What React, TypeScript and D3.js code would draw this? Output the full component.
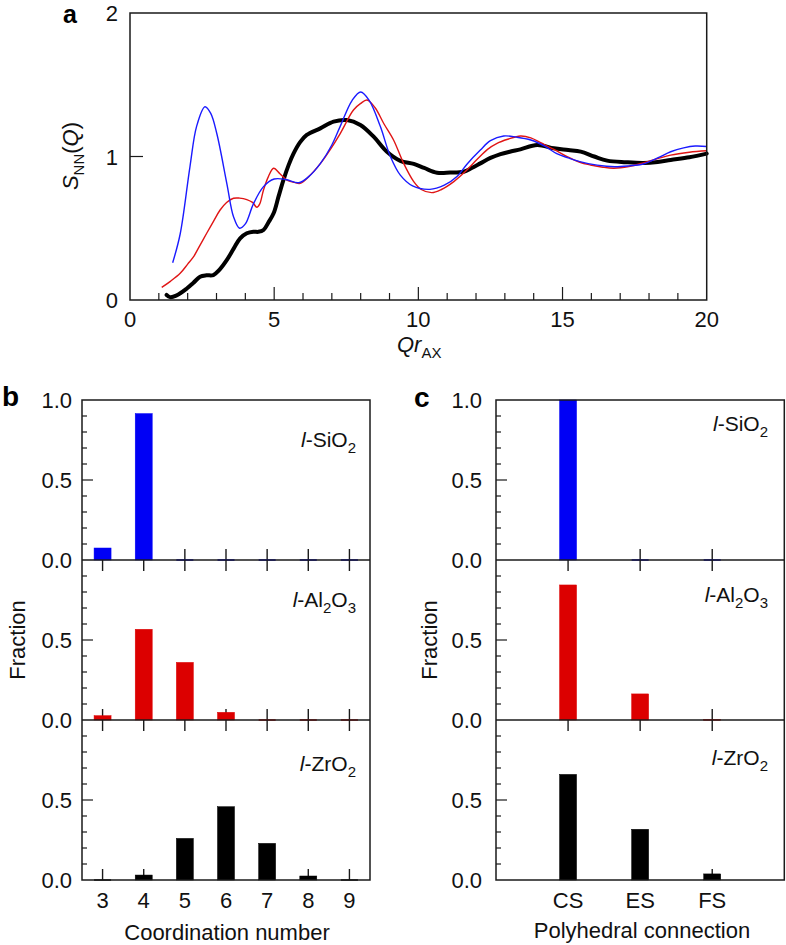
import React from 'react';
import * as d3 from 'd3';

const FONT = '"Liberation Sans", Arial, Helvetica, sans-serif';

// ---------- Panel a: S_NN(Q) vs Q r_AX ----------
const sio2Sq: [number, number][] = [
  [1.48, 0.26], [1.74, 0.46], [2.08, 0.93], [2.31, 1.21], [2.6, 1.347], [2.8, 1.3], [3.01, 1.16],
  [3.36, 0.81], [3.59, 0.58], [3.8, 0.5], [4.0, 0.53], [4.28, 0.67], [4.63, 0.79], [5.0, 0.843],
  [5.4, 0.84], [5.85, 0.817], [6.2, 0.86], [6.6, 0.95], [7.0, 1.08], [7.29, 1.21], [7.7, 1.39],
  [8.0, 1.45], [8.3, 1.39], [8.68, 1.21], [9.03, 1.0], [9.375, 0.87], [9.8, 0.795], [10.4, 0.771],
  [10.9, 0.8], [11.34, 0.86], [11.7, 0.95], [12.15, 1.045], [12.5, 1.11], [12.96, 1.143],
  [13.4, 1.135], [13.9, 1.115], [14.4, 1.07], [14.8, 1.02], [15.2, 0.99], [15.6, 0.964],
  [16.2, 0.94], [16.8, 0.929], [17.3, 0.935], [17.8, 0.948], [18.3, 0.99], [18.75, 1.033],
  [19.2, 1.06], [19.6, 1.073], [20, 1.07],
];
const al2o3Sq: [number, number][] = [
  [1.1, 0.088], [1.4, 0.13], [1.74, 0.186], [2.0, 0.25], [2.2, 0.3], [2.45, 0.39], [2.66, 0.465],
  [2.9, 0.55], [3.125, 0.627], [3.35, 0.68], [3.59, 0.709], [3.8, 0.71], [4.05, 0.7], [4.25, 0.68],
  [4.4, 0.646], [4.5, 0.67], [4.63, 0.767], [4.8, 0.86], [4.98, 0.918], [5.2, 0.88], [5.44, 0.836],
  [5.7, 0.82], [5.9, 0.813], [6.2, 0.86], [6.6, 0.95], [6.95, 1.05], [7.29, 1.16], [7.75, 1.324],
  [8.0, 1.37], [8.22, 1.394], [8.5, 1.34], [8.8, 1.23], [9.14, 1.115], [9.49, 0.952], [9.84, 0.825],
  [10.1, 0.77], [10.47, 0.748], [10.8, 0.77], [11.23, 0.825], [11.6, 0.89], [12.04, 0.98],
  [12.4, 1.05], [12.73, 1.092], [13.1, 1.12], [13.54, 1.143], [13.9, 1.13], [14.24, 1.096],
  [14.7, 1.05], [15.16, 0.999], [15.6, 0.96], [15.97, 0.941], [16.4, 0.925], [16.78, 0.918],
  [17.3, 0.93], [17.8, 0.955], [18.3, 0.985], [18.75, 1.01], [19.4, 1.03], [20, 1.04],
];
const zro2Sq: [number, number][] = [
  [1.27, 0.035], [1.39, 0.02], [1.6, 0.03], [1.97, 0.08], [2.2, 0.12], [2.43, 0.162], [2.65, 0.172],
  [2.89, 0.174], [3.1, 0.21], [3.36, 0.279], [3.6, 0.36], [3.82, 0.43], [4.05, 0.465], [4.28, 0.476],
  [4.45, 0.475], [4.63, 0.488], [4.8, 0.54], [4.98, 0.604], [5.15, 0.72], [5.32, 0.836], [5.5, 0.94],
  [5.67, 1.02], [5.9, 1.1], [6.13, 1.15], [6.6, 1.196], [7.06, 1.243], [7.52, 1.254], [7.99, 1.22],
  [8.45, 1.138], [8.91, 1.033], [9.375, 0.97], [9.84, 0.948], [10.2, 0.92], [10.65, 0.887],
  [11.1, 0.888], [11.57, 0.894], [11.85, 0.92], [12.15, 0.952], [12.5, 0.99], [12.85, 1.017],
  [13.2, 1.035], [13.54, 1.05], [14.12, 1.08], [14.7, 1.057], [15.2, 1.045], [15.63, 1.034],
  [16.1, 1.0], [16.55, 0.971], [17.2, 0.96], [17.8, 0.955], [18.3, 0.962], [18.75, 0.976],
  [19.4, 0.995], [20, 1.02],
];
const qTickLabels = [0, 5, 10, 15, 20];
const sTickLabels = [0, 1, 2];

// ---------- Panel b: coordination number ----------
const coordCats = ['3', '4', '5', '6', '7', '8', '9'];
const sio2Coord = [0.075, 0.915, 0, 0, 0, 0, 0];
const al2o3Coord = [0.027, 0.567, 0.36, 0.048, 0, 0, 0];
const zro2Coord = [0, 0.031, 0.26, 0.458, 0.229, 0.025, 0];

// ---------- Panel c: polyhedral connection ----------
const polyCats = ['CS', 'ES', 'FS'];
const sio2Poly = [1.0, 0, 0];
const al2o3Poly = [0.844, 0.163, 0.004];
const zro2Poly = [0.66, 0.317, 0.038];

const BLUE = '#0000f5';
const RED = '#dc0000';
const BLACK = '#000000';
const AXIS = '#1a1a1a';

const SUB_H = 160;
const BAR_TOP = 400;
const TICK_FS = 22;

function SiO2Label(props: any) {
  return (
    <text {...props}>
      <tspan fontStyle="italic">l</tspan>
      <tspan>-SiO</tspan>
      <tspan dy={6} fontSize={15}>2</tspan>
    </text>
  );
}
function Al2O3Label(props: any) {
  return (
    <text {...props}>
      <tspan fontStyle="italic">l</tspan>
      <tspan>-Al</tspan>
      <tspan dy={6} fontSize={15}>2</tspan>
      <tspan dy={-6}>O</tspan>
      <tspan dy={6} fontSize={15}>3</tspan>
    </text>
  );
}
function ZrO2Label(props: any) {
  return (
    <text {...props}>
      <tspan fontStyle="italic">l</tspan>
      <tspan>-ZrO</tspan>
      <tspan dy={6} fontSize={15}>2</tspan>
    </text>
  );
}

type BarPanelProps = {
  left: number;
  right: number;
  cats: string[];
  padding: number;
  series: number[][];
  labelRight: number;
  labelBaselines: number[];
  yLabelX: number;
  barW: number;
};

function BarPanel({ left, right, cats, padding, series, labelRight, labelBaselines, yLabelX, barW }: BarPanelProps) {
  const x = d3.scalePoint<string>().domain(cats).range([left, right]).padding(padding);
  const colors = [BLUE, RED, BLACK];
  const Labels = [SiO2Label, Al2O3Label, ZrO2Label];
  const minor = d3.range(1, 10).map((k) => k / 10);
  const bottom = BAR_TOP + SUB_H * 3;
  return (
    <g>
      {series.map((vals, i) => {
        const base = BAR_TOP + SUB_H * (i + 1);
        const y = d3.scaleLinear().domain([0, 1]).range([base, base - SUB_H]);
        const L = Labels[i];
        const yLabels = i === 0 ? [1.0, 0.5, 0.0] : [0.5, 0.0];
        return (
          <g key={i}>
            {minor.map((v) => (
              <line key={v} x1={left} x2={left + (Math.abs(v - 0.5) < 1e-9 ? 11 : 5)} y1={y(v)} y2={y(v)} stroke={AXIS} strokeWidth={1.2} />
            ))}
            {cats.map((c) => (
              <g key={c}>
                <line x1={x(c)} x2={x(c)} y1={base} y2={base - 11} stroke={AXIS} strokeWidth={1.4} />
                {i > 0 && <line x1={x(c)} x2={x(c)} y1={base - SUB_H} y2={base - SUB_H + 11} stroke={AXIS} strokeWidth={1.4} />}
              </g>
            ))}
            {vals.map((v, j) =>
              v > 0 ? (
                <rect key={j} x={(x(cats[j]) as number) - barW / 2} width={barW} y={y(v)} height={Math.max(base - y(v), 1)} fill={colors[i]} stroke={colors[i]} strokeWidth={0.5} />
              ) : (
                <line key={j} x1={(x(cats[j]) as number) - barW / 2} x2={(x(cats[j]) as number) + barW / 2} y1={base} y2={base} stroke={colors[i]} strokeWidth={1.5} />
              )
            )}
            {yLabels.map((v) => (
              <text key={v} x={yLabelX} y={y(v) + 8} textAnchor="end" fontSize={TICK_FS} fontFamily={FONT} fill="#111">
                {v.toFixed(1)}
              </text>
            ))}
            <L x={labelRight} y={labelBaselines[i]} textAnchor="end" fontSize={21} fontFamily={FONT} fill="#111" />
          </g>
        );
      })}
      {[1, 2].map((k) => (
        <line key={k} x1={left} x2={right} y1={BAR_TOP + SUB_H * k} y2={BAR_TOP + SUB_H * k} stroke={AXIS} strokeWidth={1.5} />
      ))}
      <rect x={left} y={BAR_TOP} width={right - left} height={bottom - BAR_TOP} fill="none" stroke={AXIS} strokeWidth={1.5} />
      {cats.map((c) => (
        <text key={c} x={x(c)} y={908} textAnchor="middle" fontSize={TICK_FS} fontFamily={FONT} fill="#111">
          {c}
        </text>
      ))}
    </g>
  );
}

export default function App() {
  const W = 786;
  const H = 945;
  const ax = d3.scaleLinear().domain([0, 20]).range([130, 706.7]);
  const ay = d3.scaleLinear().domain([0, 2]).range([300, 13]);
  const line = d3
    .line<[number, number]>()
    .x((d) => ax(d[0]))
    .y((d) => ay(d[1]))
    .curve(d3.curveCatmullRom.alpha(0.5));
  const qMinor = d3.range(1, 20);

  return (
    <svg width={W} height={H} style={{ position: 'absolute', left: 0, top: 0, background: '#fff' }} fontFamily={FONT}>
      <rect x={0} y={0} width={W} height={H} fill="#fff" />
      {/* Panel a */}
      <text x={63} y={23} fontSize={25} fontWeight="bold" fontFamily={FONT}>a</text>
      {qMinor.map((q) => (
        <line key={q} x1={ax(q)} x2={ax(q)} y1={300} y2={300 - (q % 5 === 0 ? 13 : 7)} stroke={AXIS} strokeWidth={1.2} />
      ))}
      <line x1={130} x2={143} y1={ay(1)} y2={ay(1)} stroke={AXIS} strokeWidth={1.2} />
      <path d={line(zro2Sq) || ''} fill="none" stroke={BLACK} strokeWidth={4} strokeLinejoin="round" strokeLinecap="round" />
      <path d={line(al2o3Sq) || ''} fill="none" stroke="#e01515" strokeWidth={1.4} />
      <path d={line(sio2Sq) || ''} fill="none" stroke="#1a1aff" strokeWidth={1.4} />
      <rect x={130} y={13} width={706.7 - 130} height={287} fill="none" stroke={AXIS} strokeWidth={1.5} />
      {qTickLabels.map((q) => (
        <text key={q} x={ax(q)} y={327} textAnchor="middle" fontSize={TICK_FS} fontFamily={FONT} fill="#111">{q}</text>
      ))}
      {sTickLabels.map((s) => (
        <text key={s} x={118} y={ay(s) + 8} textAnchor="end" fontSize={TICK_FS} fontFamily={FONT} fill="#111">{s}</text>
      ))}
      <text x={397} y={352} fontSize={22} fontFamily={FONT} fill="#111">
        <tspan fontStyle="italic">Qr</tspan>
        <tspan dy={6} fontSize={15}>AX</tspan>
      </text>
      <text transform="translate(78,156) rotate(-90)" textAnchor="middle" fontSize={22} fontFamily={FONT} fill="#111">
        <tspan fontStyle="italic">S</tspan>
        <tspan dy={6} fontSize={15}>NN</tspan>
        <tspan dy={-6}>(</tspan>
        <tspan fontStyle="italic">Q</tspan>
        <tspan>)</tspan>
      </text>

      {/* Panel b */}
      <text x={2} y={406} fontSize={28} fontWeight="bold" fontFamily={FONT}>b</text>
      <BarPanel
        left={82}
        right={370}
        cats={coordCats}
        padding={0.5}
        series={[sio2Coord, al2o3Coord, zro2Coord]}
        labelRight={356}
        labelBaselines={[447, 607, 771]}
        yLabelX={72}
        barW={17}
      />
      <text transform="translate(25,640) rotate(-90)" textAnchor="middle" fontSize={22} fontFamily={FONT} fill="#111">Fraction</text>
      <text x={227} y={940} textAnchor="middle" fontSize={22} fontFamily={FONT} fill="#111">Coordination number</text>

      {/* Panel c */}
      <text x={414} y={407} fontSize={28} fontWeight="bold" fontFamily={FONT}>c</text>
      <BarPanel
        left={496}
        right={784.3}
        cats={polyCats}
        padding={1}
        series={[sio2Poly, al2o3Poly, zro2Poly]}
        labelRight={768}
        labelBaselines={[431, 602, 765]}
        yLabelX={482}
        barW={17}
      />
      <text transform="translate(437,640) rotate(-90)" textAnchor="middle" fontSize={22} fontFamily={FONT} fill="#111">Fraction</text>
      <text x={642} y={938} textAnchor="middle" fontSize={22} fontFamily={FONT} fill="#111">Polyhedral connection</text>
    </svg>
  );
}
